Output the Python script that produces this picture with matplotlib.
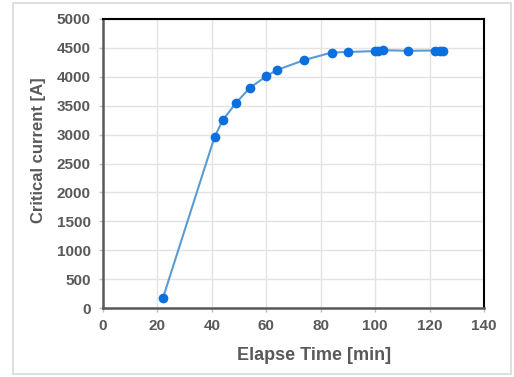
import numpy as np
import matplotlib.pyplot as plt
from matplotlib.patches import Rectangle

# elapsed time [min] and critical current [A]
elapse_min = [22, 41, 44, 49, 54, 60, 64, 74, 84, 90, 100, 101, 103, 112, 122, 124, 125]
ic_amp = [170, 2960, 3250, 3555, 3810, 4010, 4120, 4290, 4420, 4430, 4445, 4455, 4460, 4450, 4455, 4455, 4455]

plt.rcParams['font.family'] = ['Liberation Sans', 'DejaVu Sans']

W, H = 514, 377
fig = plt.figure(figsize=(W / 100, H / 100), dpi=100)
fig.patch.set_facecolor('white')

# light frame round the whole chart
fig.patches.append(Rectangle((13 / W, 3 / H), 498 / W, 371 / H, transform=fig.transFigure,
                             fill=False, edgecolor='#d9d9d9', linewidth=1.2))

ax = fig.add_axes([103 / W, 1 - 308 / H, 381 / W, 289 / H])

ax.plot(elapse_min, ic_amp, '-', color='#5b9bd5', linewidth=1.5, zorder=3)
ax.plot(elapse_min, ic_amp, 'o', color='#0a6fdf', markersize=7, markeredgewidth=0, zorder=4)

ax.set_xlim(0, 140)
ax.set_ylim(0, 5000)
ax.set_xticks(np.arange(0, 141, 20))
ax.set_yticks(np.arange(0, 5001, 500))
ax.grid(True, color='#e3e3e3', linewidth=1)
ax.set_axisbelow(True)

for s in ['top', 'right']:
    ax.spines[s].set_color('black')
    ax.spines[s].set_linewidth(1.5)
for s in ['left', 'bottom']:
    ax.spines[s].set_color('#595959')
    ax.spines[s].set_linewidth(1.8)

ax.tick_params(axis='both', length=3, width=1, color='#bfbfbf', labelcolor='#595959', labelsize=11)
ax.tick_params(axis='y', pad=6)
ax.tick_params(axis='x', pad=5)
for lab in ax.get_xticklabels() + ax.get_yticklabels():
    lab.set_fontweight('bold')

ax.set_xlabel('Elapse Time [min]', fontsize=13, fontweight='bold', color='#595959', va='center')
ax.set_ylabel('Critical current [A]', fontsize=12, fontweight='bold', color='#595959', va='center')
ax.xaxis.set_label_coords(0.554, -0.163)
ax.yaxis.set_label_coords(-0.17, 0.545)

fig.savefig('out.png', dpi=100)
